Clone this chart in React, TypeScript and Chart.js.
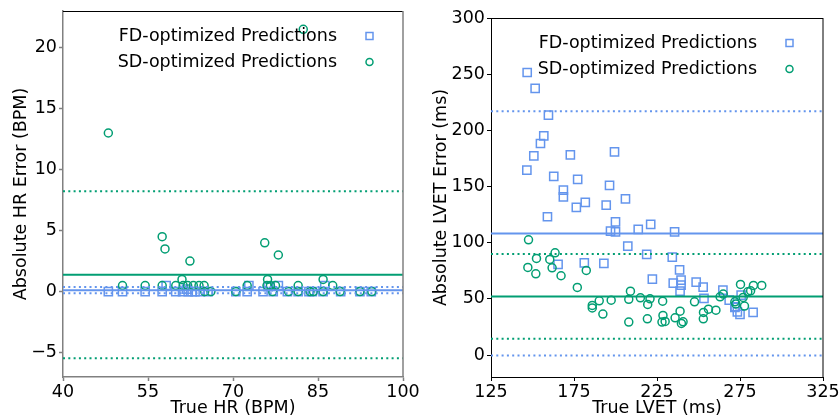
import React, { useEffect, useRef } from "react";
import { Chart, registerables } from "chart.js";
Chart.register(...registerables);

const BLUE = "#6495ED";
const GREEN = "#029E73";
const FONT = "'DejaVu Sans', sans-serif";
const FS = 17.5;

const seriesLabels = ["FD-optimized Predictions", "SD-optimized Predictions"];

// ---- HR panel ----
const hrXTicks = [40, 55, 70, 85, 100];
const hrYTicks = [-5, 0, 5, 10, 15, 20];
const hrFdX = [48, 50.5, 54.5, 57.5, 58.2, 59.9, 61.1, 61.8, 62.1, 62.8, 63.3, 64.2, 65.6, 70.5, 72.5, 72.8, 75.3, 76.2, 77.1, 78, 79.6, 81.5, 83.4, 84, 85.9, 86.2, 89, 92.4, 94.4];
const hrFdY = [0, 0, 0, 0, 0.5, 0, 0, 0.2, 0, 0, 0, 0, 0, 0, 0, 0.5, 0, 0.4, 0, 0.5, 0, 0, 0, 0, 0, 0.5, 0, 0, 0];
const hrSdX = [48, 82.4, 57.5, 58, 62.4, 75.6, 78, 50.5, 54.5, 57.5, 59.9, 61, 61.2, 62, 63, 64, 64.9, 65, 66.1, 70.5, 72.5, 76.1, 76, 76.6, 77.5, 77, 79.8, 81.5, 81.5, 83.6, 84.2, 85.9, 85.9, 87.6, 88.9, 92.4, 94.5];
const hrSdY = [13, 21.5, 4.5, 3.5, 2.5, 4.0, 3.0, 0.5, 0.5, 0.5, 0.5, 1.0, 0.5, 0.5, 0.5, 0.5, 0.5, 0, 0, 0, 0.5, 1.0, 0.5, 0.5, 0.5, 0, 0, 0.5, 0, 0, 0, 1.0, 0, 0.5, 0, 0, 0];
const hrFdMean = 0.12;
const hrFdLoA = [0.38, -0.14];
const hrSdMean = 1.38;
const hrSdLoA = [8.23, -5.47];

// ---- LVET panel ----
const lvXTicks = [125, 175, 225, 275, 325];
const lvYTicks = [0, 50, 100, 150, 200, 250, 300];
const lvFdX = [146.8, 151.6, 159.6, 156.8, 154.8, 150.8, 172.8, 199.4, 146.6, 162.8, 177.2, 196.4, 168.6, 168.6, 181.8, 176.4, 194.4, 206, 159, 200, 197, 200, 213.7, 221.2, 207.4, 218.8, 165.4, 181.2, 193, 222.2, 235.6, 234.2, 238.6, 234.8, 239.5, 239.5, 238.9, 248.6, 252.8, 253.3, 264.7, 268.5, 272.1, 275.7, 273.4, 275, 282.9, 271.9];
const lvFdY = [251.5, 237.3, 213.5, 195.1, 188.3, 177.3, 178.2, 180.9, 164.6, 159, 156.3, 151, 146.8, 140.8, 135.9, 131.4, 133.5, 139.1, 123.1, 118.6, 110.3, 109.7, 111.8, 116.3, 97, 89.6, 80.7, 82.1, 81.6, 67.6, 109.7, 87.2, 75.9, 64, 66.7, 62.3, 56.9, 65, 60.5, 50.4, 57.8, 48.9, 43, 53.4, 38.5, 36.2, 38, 42.4];
const lvSdX = [147.6, 147.2, 152.4, 152, 160.4, 163.6, 161.8, 167.2, 177, 182.4, 186, 186, 190.2, 192.4, 197.4, 208, 209, 208, 215, 219.4, 219.2, 220.8, 228.4, 228.6, 228, 229.9, 235.9, 238.9, 239.7, 240.7, 247.6, 253, 252.9, 256, 260.5, 263, 264.9, 271.9, 272.5, 275.3, 276.9, 277.7, 279.7, 281.4, 283.1, 288.1];
const lvSdY = [102.6, 78, 86, 72.3, 85.1, 91, 77.7, 70.6, 60.2, 75.3, 44.2, 42, 48.3, 36.5, 48.9, 49.6, 56.9, 29.4, 51, 45.1, 32.3, 50.1, 48, 35.3, 29.4, 30, 33.2, 39.1, 28.2, 29.6, 47.4, 38, 32.3, 40.9, 40, 51.9, 54.3, 47.4, 45.5, 62.9, 51.3, 43.6, 56.3, 57.2, 62, 62];
const lvFdMean = 108.3;
const lvFdLoA = [217, -0.3];
const lvSdMean = 52.2;
const lvSdLoA = [90.0, 14.6];

type Panel = {
  xTitle: string;
  yTitle: string;
  xMin: number; xMax: number; yMin: number; yMax: number;
  xTicks: number[]; yTicks: number[];
  fdX: number[]; fdY: number[]; sdX: number[]; sdY: number[];
  fdMean: number; fdLoA: number[]; sdMean: number; sdLoA: number[];
  axisColor: string; topColor: string; axisWidth: number;
  yAxisWidth: number; padTop: number;
};

const hLine = (v: number, xMin: number, xMax: number, color: string, dotted: boolean) => ({
  type: "line" as const,
  data: [{ x: xMin, y: v }, { x: xMax, y: v }],
  borderColor: color,
  borderWidth: 2,
  borderDash: dotted ? [2, 3.3] : [],
  pointRadius: 0,
  showLine: true,
  fill: false,
});

const frameLegendPlugin = {
  id: "frameLegend",
  afterDraw(chart: any, _a: any, opts: any) {
    const { ctx, chartArea: a } = chart;
    ctx.save();
    // top + right spines
    ctx.lineWidth = 1;
    ctx.strokeStyle = opts.topColor;
    ctx.beginPath();
    ctx.moveTo(a.left, a.top + 0.5);
    ctx.lineTo(a.right, a.top + 0.5);
    ctx.stroke();
    ctx.lineWidth = opts.axisWidth;
    ctx.strokeStyle = opts.axisColor;
    ctx.beginPath();
    ctx.moveTo(a.right, a.top);
    ctx.lineTo(a.right, a.bottom);
    ctx.stroke();
    // legend
    ctx.font = `${FS}px ${FONT}`;
    ctx.fillStyle = "#000";
    ctx.textAlign = "right";
    ctx.textBaseline = "middle";
    const rows = [a.top + 25, a.top + 51];
    const tx = a.right - 66;
    const mx = a.right - 33.5;
    ctx.fillText(seriesLabels[0], tx, rows[0]);
    ctx.fillText(seriesLabels[1], tx, rows[1]);
    ctx.lineWidth = 1.5;
    ctx.strokeStyle = BLUE;
    ctx.strokeRect(mx - 3.5, rows[0] - 3.5, 7, 7);
    ctx.strokeStyle = GREEN;
    ctx.beginPath();
    ctx.arc(mx, rows[1], 3.5, 0, Math.PI * 2);
    ctx.stroke();
    ctx.restore();
  },
};

function makeConfig(p: Panel): any {
  const tickFont = { family: FONT, size: FS };
  return {
    type: "scatter",
    data: {
      datasets: [
        hLine(p.sdMean, p.xMin, p.xMax, GREEN, false),
        hLine(p.sdLoA[0], p.xMin, p.xMax, GREEN, true),
        hLine(p.sdLoA[1], p.xMin, p.xMax, GREEN, true),
        hLine(p.fdMean, p.xMin, p.xMax, BLUE, false),
        hLine(p.fdLoA[0], p.xMin, p.xMax, BLUE, true),
        hLine(p.fdLoA[1], p.xMin, p.xMax, BLUE, true),
        {
          label: seriesLabels[1],
          data: p.sdX.map((x, i) => ({ x, y: p.sdY[i] })),
          pointStyle: "circle",
          pointRadius: 4,
          borderColor: GREEN,
          backgroundColor: "rgba(0,0,0,0)",
          borderWidth: 1.5,
        },
        {
          label: seriesLabels[0],
          data: p.fdX.map((x, i) => ({ x, y: p.fdY[i] })),
          pointStyle: "rect",
          pointRadius: 5.8,
          borderColor: BLUE,
          backgroundColor: "rgba(0,0,0,0)",
          borderWidth: 1.5,
        },
      ],
    },
    options: {
      animation: false,
      responsive: false,
      devicePixelRatio: 1,
      events: [],
      layout: { padding: { top: p.padTop, right: 17, left: 0, bottom: 0 } },
      plugins: {
        legend: { display: false },
        tooltip: { enabled: false },
        frameLegend: { topColor: p.topColor, axisColor: p.axisColor, axisWidth: p.axisWidth },
      },
      scales: {
        x: {
          type: "linear",
          min: p.xMin,
          max: p.xMax,
          afterBuildTicks: (s: any) => { s.ticks = p.xTicks.map((v) => ({ value: v })); },
          afterFit: (s: any) => { s.height = 41; s.paddingLeft = 0; s.paddingRight = 0; },
          ticks: { font: tickFont, color: "#000", padding: 1, maxRotation: 0, autoSkip: false },
          grid: { display: true, drawOnChartArea: false, drawTicks: true, tickLength: 4, color: p.axisColor, tickWidth: p.axisWidth },
          border: { display: true, color: p.axisColor, width: p.axisWidth },
          title: { display: true, text: p.xTitle, font: tickFont, color: "#000", padding: { top: 0, bottom: -1 } },
        },
        y: {
          type: "linear",
          min: p.yMin,
          max: p.yMax,
          afterBuildTicks: (s: any) => { s.ticks = p.yTicks.map((v) => ({ value: v })); },
          afterFit: (s: any) => { s.width = p.yAxisWidth; s.paddingTop = 0; s.paddingBottom = 0; },
          ticks: {
            font: tickFont, color: "#000", padding: 2, autoSkip: false,
            callback: (v: number) => String(v).replace("-", "\u2212"),
          },
          grid: { display: true, drawOnChartArea: false, drawTicks: true, tickLength: 4, color: p.axisColor, tickWidth: p.axisWidth },
          border: { display: true, color: p.axisColor, width: p.axisWidth },
          title: { display: true, text: p.yTitle, font: tickFont, color: "#000", padding: { top: 11, bottom: 0 } },
        },
      },
    },
    plugins: [frameLegendPlugin],
  };
}

const hrPanel: Panel = {
  xTitle: "True HR (BPM)", yTitle: "Absolute HR Error (BPM)",
  xMin: 40, xMax: 100, yMin: -7, yMax: 23,
  xTicks: hrXTicks, yTicks: hrYTicks,
  fdX: hrFdX, fdY: hrFdY, sdX: hrSdX, sdY: hrSdY,
  fdMean: hrFdMean, fdLoA: hrFdLoA, sdMean: hrSdMean, sdLoA: hrSdLoA,
  axisColor: "#808080", topColor: "#000", axisWidth: 1.5,
  yAxisWidth: 63, padTop: 11,
};

const lvPanel: Panel = {
  xTitle: "True LVET (ms)", yTitle: "Absolute LVET Error (ms)",
  xMin: 125, xMax: 325, yMin: -19.5, yMax: 300,
  xTicks: lvXTicks, yTicks: lvYTicks,
  fdX: lvFdX, fdY: lvFdY, sdX: lvSdX, sdY: lvSdY,
  fdMean: lvFdMean, fdLoA: lvFdLoA, sdMean: lvSdMean, sdLoA: lvSdLoA,
  axisColor: "#000", topColor: "#000", axisWidth: 1,
  yAxisWidth: 71, padTop: 18,
};

function ChartPanel({ panel, left }: { panel: Panel; left: number }) {
  const ref = useRef<HTMLCanvasElement>(null);
  useEffect(() => {
    const chart = new Chart(ref.current as HTMLCanvasElement, makeConfig(panel));
    return () => chart.destroy();
  }, [panel]);
  return (
    <canvas
      ref={ref}
      width={420}
      height={418}
      style={{ position: "absolute", left, top: 0, width: 420, height: 418 }}
    />
  );
}

export default function App() {
  return (
    <div style={{ position: "fixed", left: 0, top: 0, width: 840, height: 418, background: "#fff", overflow: "hidden" }}>
      <ChartPanel panel={hrPanel} left={0} />
      <ChartPanel panel={lvPanel} left={420} />
    </div>
  );
}
